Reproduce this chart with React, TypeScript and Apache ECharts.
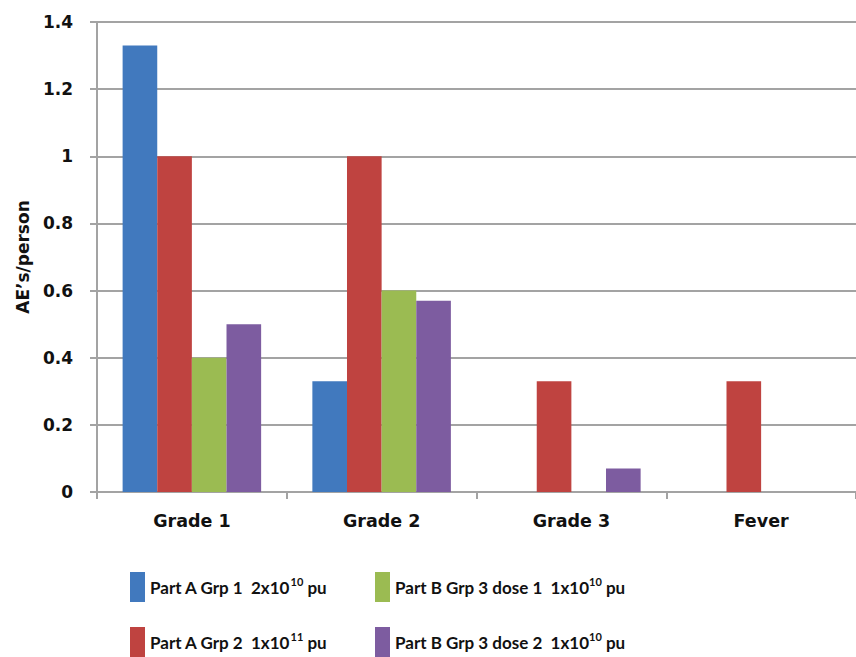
import React, { useEffect, useRef } from "react";
import * as echarts from "echarts";

const categories = ["Grade 1", "Grade 2", "Grade 3", "Fever"];
const seriesNames = [
  "Part A Grp 1  2x10^10 pu",
  "Part A Grp 2  1x10^11 pu",
  "Part B Grp 3 dose 1  1x10^10 pu",
  "Part B Grp 3 dose 2  1x10^10 pu",
];
const partAGrp1 = [1.33, 0.33, 0, 0];
const partAGrp2 = [1.0, 1.0, 0.33, 0.33];
const partBDose1 = [0.4, 0.6, 0, 0];
const partBDose2 = [0.5, 0.57, 0.07, 0];
const seriesValues = [partAGrp1, partAGrp2, partBDose1, partBDose2];
const colors = ["#4179BE", "#BF4340", "#9BBB52", "#7D5CA0"];
const yTicks = { min: 0, max: 1.4, interval: 0.2 };

const legendFormatter = (name: string) => {
  const m = name.match(/^(.*x10)\^(\d+)(.*)$/);
  if (!m) return `{b|${name}}`;
  return `{b|${m[1]}}{sup|${m[2]}}{b|${m[3]}}`;
};

const legendRich = {
  b: { fontFamily: "Lato", fontWeight: "bold", fontSize: 17, color: "#111" },
  sup: {
    fontFamily: "Lato",
    fontWeight: "bold",
    fontSize: 11,
    color: "#111",
    padding: [0, 0, 11, 0],
  },
};

export default function App() {
  const ref = useRef<HTMLDivElement>(null);
  useEffect(() => {
    if (!ref.current) return;
    const chart = echarts.init(ref.current, undefined, { renderer: "svg" });
    const legendPos = [
      [130, 572],
      [130, 627],
      [375, 572],
      [375, 627],
    ];
    const legends = seriesNames.map((name, i) => ({
      left: legendPos[i][0],
      top: legendPos[i][1],
      itemWidth: 15,
      itemHeight: 30,
      itemGap: 0,
      icon: "rect",
      padding: 0,
      data: [name],
      formatter: legendFormatter,
      textStyle: { rich: legendRich, padding: [0, 0, 0, 0] },
      itemStyle: { borderWidth: 0 },
    }));
    chart.setOption({
      animation: false,
      backgroundColor: "#ffffff",
      color: colors,
      grid: { left: 97, top: 22, bottom: 165, right: -9, containLabel: false },
      legend: legends,
      xAxis: {
        type: "category",
        data: categories,
        axisLine: { lineStyle: { color: "#a3a3a3", width: 2 } },
        axisTick: { show: true, length: 7, lineStyle: { color: "#a3a3a3", width: 2 } },
        axisLabel: {
          margin: 20,
          fontFamily: "DejaVu Sans",
          fontWeight: "bold",
          fontSize: 17.5,
          color: "#111",
        },
      },
      yAxis: {
        type: "value",
        min: yTicks.min,
        max: yTicks.max,
        interval: yTicks.interval,
        name: "AE’s/person",
        nameLocation: "middle",
        nameGap: 66,
        nameTextStyle: {
          fontFamily: "DejaVu Sans",
          fontWeight: "bold",
          fontSize: 17,
          color: "#111",
        },
        axisLine: { show: true, lineStyle: { color: "#a3a3a3", width: 2 } },
        axisTick: { show: true, length: 7, lineStyle: { color: "#a3a3a3", width: 2 } },
        splitLine: { lineStyle: { color: "#a3a3a3", width: 2 } },
        axisLabel: {
          margin: 24,
          fontFamily: "DejaVu Sans",
          fontWeight: "bold",
          fontSize: 17,
          color: "#111",
        },
      },
      series: seriesNames.map((name, i) => ({
        name,
        type: "bar",
        data: seriesValues[i],
        barGap: "0%",
        barCategoryGap: "27%",
        itemStyle: { color: colors[i] },
      })),
    });
    return () => chart.dispose();
  }, []);
  return (
    <div
      ref={ref}
      style={{ position: "fixed", left: 0, top: 0, width: 856, height: 657 }}
    />
  );
}
